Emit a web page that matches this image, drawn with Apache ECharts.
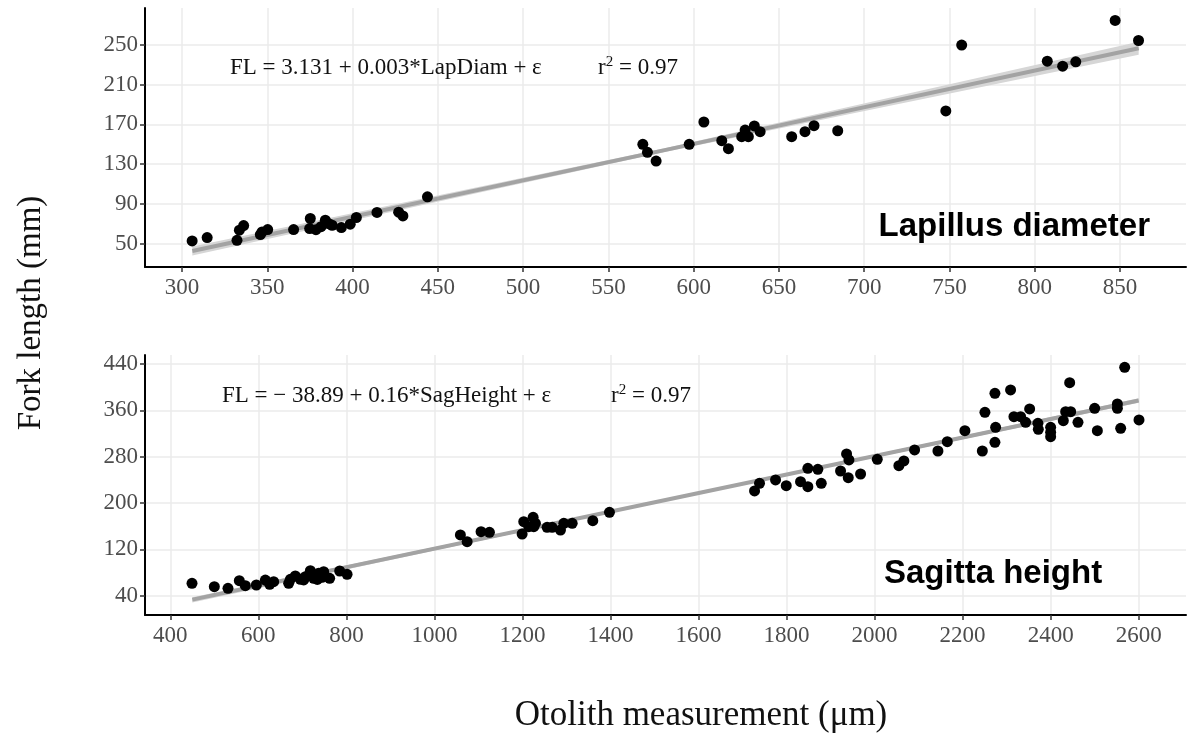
<!DOCTYPE html>
<html>
<head>
<meta charset="utf-8">
<script src="https://cdn.jsdelivr.net/npm/echarts@6/dist/echarts.min.js"></script>
<style>
  html, body { margin: 0; padding: 0; background: #fff; }
  #main { width: 1188px; height: 736px; }
</style>
</head>
<body>
<div id="main"></div>
<script>
// Lapillus diameter panel (top)
var lapX = [305.9, 314.7, 332.2, 333.6, 336.1, 345.9, 346.9, 350.2, 365.4, 375.2, 374.8, 378.5, 381.5, 384, 386, 388, 393.4, 398.6, 402.2, 414.3, 427, 429.5, 443.9,
            570.2, 572.9, 578, 597.4, 606, 616.5, 620.4, 628.2, 630.2, 632.1, 635.6, 639, 657.5, 665.3, 670.6, 684.5,
            747.9, 757.2, 807.4, 816.4, 824.1, 847.2, 860.9];
var lapY = [52.6, 56, 53.3, 63.4, 68.1, 59, 61.7, 64.1, 64.1, 75.2, 65.1, 64, 67, 73.5, 70, 68.4, 66.1, 69.5, 76.2, 81.3, 81.6, 77.8, 97,
            149.8, 141.8, 133, 149.8, 172.3, 153.5, 145.4, 157.5, 164.2, 157.5, 168.3, 162.5, 157.5, 162.5, 168.6, 163.5,
            183.4, 249.7, 233.5, 228.5, 232.8, 274.5, 254.3];
var lapFitX = [306, 583, 861];
var lapFitY = [42.5, 144, 246.5];
var lapBandLow = [38, 142, 240];
var lapBandHigh = [47, 146, 253];
var lapXTicks = [300, 350, 400, 450, 500, 550, 600, 650, 700, 750, 800, 850];
var lapYTicks = [50, 90, 130, 170, 210, 250];

// Sagitta height panel (bottom)
var sagX = [449.3, 500, 531, 556.8, 570.5, 595.5, 615.9, 625.7, 634.8, 668.9, 672.7, 684, 695.5, 703, 706.8, 716, 718.2, 725.7, 734, 737.1, 744.8, 748.4, 762, 784.8, 801.6,
            1059, 1074.3, 1106, 1125, 1199.3, 1203, 1214.4, 1224.3, 1225.7, 1229.5, 1256, 1267.5, 1286.4, 1294, 1313, 1359.8, 1397.7,
            1727.3, 1738.6, 1775, 1799.3, 1831.8, 1848.4, 1848.4, 1871.1, 1878.9, 1922.7, 1936.4, 1941.7, 1940.2, 1968.2, 2006.1, 2055.2, 2066.6, 2090.9, 2143.9, 2165.2,
            2205.2, 2244.8, 2250.7, 2273.4, 2275, 2273.4, 2309, 2316.6, 2331.8, 2343.2, 2352.3, 2371.1, 2372, 2400, 2400, 2400, 2428.8, 2434.1, 2445.5, 2443.2, 2462.1,
            2500, 2506.1, 2551.6, 2551.6, 2559.1, 2568.2, 2600.7];
var sagY = [61.2, 55.4, 52.6, 65.7, 57.1, 58.3, 66.9, 59.5, 64, 61.2, 68.2, 73.9, 68.2, 67, 72.6, 77, 83, 69.9, 68, 78.5, 71.6, 81.3, 69.9, 82.5, 76.8,
            144.7, 133.1, 150.4, 149.3, 146.4, 167.6, 159, 175.2, 159, 164.9, 158, 158, 153.3, 164.9, 164.9, 169.4, 183.9,
            220.7, 233.9, 239.7, 229.8, 236.7, 228.1, 259.9, 258.1, 233.9, 255.2, 284.6, 274.2, 243.6, 250, 275.4, 264.4, 272.5, 291.5, 289.7, 305.8,
            324.8, 289.7, 356.6, 389.4, 330.7, 304.8, 395.1, 349, 349, 339.3, 362.3, 337.6, 327.2, 330.7, 314.4, 322, 342, 357.6, 357.6, 407.7, 339.3,
            363.5, 324.8, 370.9, 363.5, 328.9, 434.3, 343.3];
var sagFitX = [450, 1525, 2600];
var sagFitY = [33, 205, 377];
var sagBandLow = [28, 203.5, 373];
var sagBandHigh = [37, 206.5, 381];
var sagXTicks = [400, 600, 800, 1000, 1200, 1400, 1600, 1800, 2000, 2200, 2400, 2600];
var sagYTicks = [40, 120, 200, 280, 360, 440];

function pairs(xs, ys) {
    return xs.map(function (x, i) { return [x, ys[i]]; });
}

var serif = 'Liberation Serif';
var gridColor = '#ebebeb';

function xAxisOf(idx, min, max, ticks) {
    return {
        type: 'value', gridIndex: idx, min: min, max: max, z: 4,
        axisLine: { show: true, onZero: false, lineStyle: { color: '#000', width: 2 } },
        axisTick: { show: true, length: 5, customValues: ticks, lineStyle: { color: '#333', width: 1.5 } },
        axisLabel: { customValues: ticks, color: '#4d4d4d', fontFamily: serif, fontSize: 23, margin: 9,
                     formatter: function (v) { return String(v); } },
        splitLine: { show: false }
    };
}
function yAxisOf(idx, min, max, ticks) {
    return {
        type: 'value', gridIndex: idx, min: min, max: max, z: 4,
        axisLine: { show: true, onZero: false, lineStyle: { color: '#000', width: 2 } },
        axisTick: { show: true, length: 5, customValues: ticks, lineStyle: { color: '#333', width: 1.5 } },
        axisLabel: { customValues: ticks, color: '#4d4d4d', fontFamily: serif, fontSize: 23, margin: 7,
                     formatter: function (v) { return String(v); } },
        splitLine: { show: false }
    };
}

// grid lines at the tick values
function gridSeries(idx, xt, yt) {
    return {
        type: 'line', xAxisIndex: idx, yAxisIndex: idx, data: [], z: 0, silent: true,
        markLine: {
            z: 0, silent: true, animation: false, symbol: ['none', 'none'], label: { show: false },
            lineStyle: { color: gridColor, width: 1.5, type: 'solid' },
            data: xt.map(function (v) { return { xAxis: v }; })
                .concat(yt.map(function (v) { return { yAxis: v }; }))
        }
    };
}

// confidence ribbon
function bandSeries(idx, xs, low, high) {
    return {
        type: 'custom', xAxisIndex: idx, yAxisIndex: idx, z: 1, silent: true,
        data: [[xs[0], low[0]]],
        renderItem: function (params, api) {
            var pts = [];
            for (var i = 0; i < xs.length; i++) pts.push(api.coord([xs[i], low[i]]));
            for (var j = xs.length - 1; j >= 0; j--) pts.push(api.coord([xs[j], high[j]]));
            return { type: 'polygon', shape: { points: pts }, style: { fill: '#d6d6d6' } };
        }
    };
}

var option = {
    animation: false,
    grid: [
        { left: 145, top: 8, right: 2, height: 259 },
        { left: 145, top: 355, right: 2, height: 260 }
    ],
    xAxis: [xAxisOf(0, 278.25, 888.75, lapXTicks), xAxisOf(1, 342.5, 2707.5, sagXTicks)],
    yAxis: [yAxisOf(0, 26.4, 287, lapYTicks), yAxisOf(1, 6.5, 455.5, sagYTicks)],
    series: [
        gridSeries(0, lapXTicks, lapYTicks),
        gridSeries(1, sagXTicks, sagYTicks),
        bandSeries(0, lapFitX, lapBandLow, lapBandHigh),
        bandSeries(1, sagFitX, sagBandLow, sagBandHigh),
        { type: 'line', xAxisIndex: 0, yAxisIndex: 0, symbol: 'none', silent: true,
          lineStyle: { color: '#a3a3a3', width: 4 }, data: pairs(lapFitX, lapFitY), z: 2 },
        { type: 'line', xAxisIndex: 1, yAxisIndex: 1, symbol: 'none', silent: true,
          lineStyle: { color: '#a3a3a3', width: 4 }, data: pairs(sagFitX, sagFitY), z: 2 },
        { type: 'scatter', xAxisIndex: 0, yAxisIndex: 0, symbolSize: 11,
          itemStyle: { color: '#000', opacity: 1 }, data: pairs(lapX, lapY), z: 3 },
        { type: 'scatter', xAxisIndex: 1, yAxisIndex: 1, symbolSize: 11,
          itemStyle: { color: '#000', opacity: 1 }, data: pairs(sagX, sagY), z: 3 }
    ],
    graphic: [
        { type: 'text', x: 230, y: 68, z: 10, style: {
            text: 'FL = 3.131 + 0.003*LapDiam + ε', font: '23px "Liberation Serif"', fill: '#111',
            verticalAlign: 'middle' } },
        { type: 'text', x: 598, y: 68, z: 10, style: {
            text: '{r|r}{s|2}{r| = 0.97}', fill: '#111', verticalAlign: 'middle',
            rich: { r: { font: '23px "Liberation Serif"', fill: '#111' },
                    s: { font: '15px "Liberation Serif"', fill: '#111', padding: [0, 0, 12, 0] } } } },
        { type: 'text', x: 222, y: 396, z: 10, style: {
            text: 'FL = \u2212 38.89 + 0.16*SagHeight + ε', font: '23px "Liberation Serif"', fill: '#111',
            verticalAlign: 'middle' } },
        { type: 'text', x: 611, y: 396, z: 10, style: {
            text: '{r|r}{s|2}{r| = 0.97}', fill: '#111', verticalAlign: 'middle',
            rich: { r: { font: '23px "Liberation Serif"', fill: '#111' },
                    s: { font: '15px "Liberation Serif"', fill: '#111', padding: [0, 0, 12, 0] } } } },
        { type: 'text', x: 1150, y: 227, z: 10, style: {
            text: 'Lapillus diameter', font: 'bold 33px "Liberation Sans"', fill: '#000',
            align: 'right', verticalAlign: 'middle' } },
        { type: 'text', x: 884, y: 574, z: 10, style: {
            text: 'Sagitta height', font: 'bold 33px "Liberation Sans"', fill: '#000',
            verticalAlign: 'middle' } },
        { type: 'text', x: 31, y: 313, rotation: Math.PI / 2, z: 10, style: {
            text: 'Fork length (mm)', font: '33px "Liberation Serif"', fill: '#111',
            align: 'center', verticalAlign: 'middle' } },
        { type: 'text', x: 701, y: 716, z: 10, style: {
            text: 'Otolith measurement (μm)', font: '35px "Liberation Serif"', fill: '#111',
            align: 'center', verticalAlign: 'middle' } }
    ]
};

var myChart = echarts.init(document.getElementById('main'));
myChart.setOption(option);
</script>
</body>
</html>
